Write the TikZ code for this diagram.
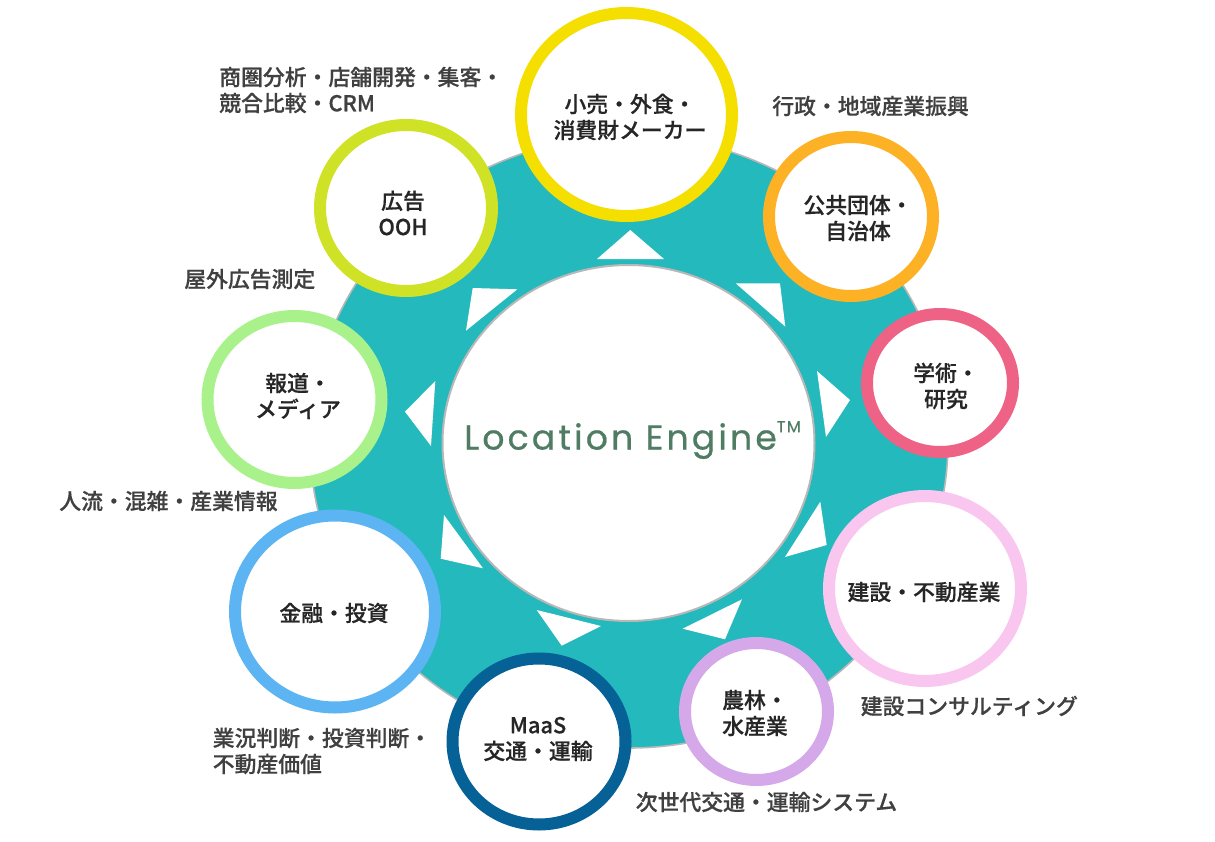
\documentclass[tikz,border=0pt]{standalone}
\usepackage{fontspec}
\usetikzlibrary{shapes.geometric}
\newfontfamily\jpfont[FakeBold=0.5]{Noto Sans CJK JP Medium}
\newfontfamily\logofont[LetterSpace=9,FakeBold=0.6]{Poppins}
\definecolor{teal1}{HTML}{23B9BD}
\definecolor{edge1}{HTML}{B8B8B8}
\definecolor{cyellow}{HTML}{F5DF00}
\definecolor{clime}{HTML}{CFE225}
\definecolor{corange}{HTML}{FDB125}
\definecolor{cpink}{HTML}{EE6286}
\definecolor{clpink}{HTML}{F9C6EF}
\definecolor{cpurple}{HTML}{D5A8EA}
\definecolor{cnavy}{HTML}{056196}
\definecolor{cblue}{HTML}{5DB4F2}
\definecolor{clgreen}{HTML}{A9F28B}
\definecolor{txtdark}{HTML}{262626}
\definecolor{txtgray}{HTML}{404040}
\definecolor{logogreen}{HTML}{4F7C62}
\tikzset{
  x=0.75pt,y=-0.75pt,
  ringnode/.style={ellipse,draw,fill=white,line width=9pt,inner sep=0pt},
  nodetext/.style={text=txtdark,align=center,inner sep=0pt,font=\jpfont\fontsize{16.38}{19.5}\selectfont},
  sidetext/.style={text=txtgray,align=left,inner sep=0pt,font=\jpfont\fontsize{16.38}{19.5}\selectfont},
  arrowtri/.style={fill=white,draw=none},
}
\newcommand{\ringat}[6]{% name, x, y, rx, ry, colour
  \node[ringnode,draw=#6,minimum width=#4*1.5pt-9pt,minimum height=#5*1.5pt-9pt] (#1) at (#2,#3) {};}
\begin{document}
\begin{tikzpicture}
\useasboundingbox (0,0) rectangle (1215,842);
% big disc and central disc
\node[ellipse,draw=edge1,line width=1.2pt,fill=teal1,inner sep=0pt,minimum width=478.5pt,minimum height=459pt] (disc) at (629,442) {};
\node[ellipse,draw=edge1,line width=1.5pt,fill=white,inner sep=0pt,minimum width=279pt,minimum height=267pt] (core) at (628.5,443) {};
\node[text=logogreen,inner sep=0pt,font=\logofont\fontsize{26}{28}\selectfont] (logo) at (632.5,440) {Location Engine\raisebox{0.5em}{\fontsize{12}{12}\selectfont TM}};
% arrow triangles
\fill[arrowtri] (630.3,230) -- (664,259) -- (597,259) -- cycle;
\fill[arrowtri] (735.7,283.3) -- (780,283.3) -- (785.3,326.7) -- cycle;
\fill[arrowtri] (817,371) -- (850,400) -- (826,437) -- cycle;
\fill[arrowtri] (820.3,501.7) -- (826.7,545) -- (785,557) -- cycle;
\fill[arrowtri] (742,599.3) -- (682.7,628.7) -- (725,639.3) -- cycle;
\fill[arrowtri] (536.7,610) -- (601,626) -- (561.7,645.7) -- cycle;
\fill[arrowtri] (444,515) -- (440.7,558.7) -- (483,568.3) -- cycle;
\fill[arrowtri] (405,411.7) -- (435.3,381) -- (431,446) -- cycle;
\fill[arrowtri] (472.7,288) -- (517.3,289.3) -- (466,330.7) -- cycle;
% rings
\ringat{retail}{626.5}{114.5}{111.5}{107.5}{cyellow}
\ringat{ooh}{406}{208}{92}{89}{clime}
\ringat{public}{851}{216.5}{88}{85.5}{corange}
\ringat{acad}{940}{383}{79}{75}{cpink}
\ringat{build}{925}{588.5}{102}{98.5}{clpink}
\ringat{agri}{756.5}{711.5}{77.5}{74.5}{cpurple}
\ringat{maas}{539}{741.5}{92.5}{89}{cnavy}
\ringat{fin}{335}{611.5}{106}{102}{cblue}
\ringat{media}{294.5}{399.5}{93}{89.5}{clgreen}
% ring texts
\node[nodetext] (tretail) at (630,117) {小売・外食・\\消費財メーカー};
\node[nodetext] (tooh) at (403,213) {広告\\OOH};
\node[nodetext] (tpublic) at (858,218) {公共団体・\\自治体};
\node[nodetext] (tacad) at (946,386) {学術・\\研究};
\node[nodetext] (tbuild) at (924,592) {建設・不動産業};
\node[nodetext] (tagri) at (755,713) {農林・\\水産業};
\node[nodetext] (tmaas) at (538,739) {MaaS\\交通・運輸};
\node[nodetext] (tfin) at (334,613) {金融・投資};
\node[nodetext] (tmedia) at (298,396) {報道・\\メディア};
% side labels
\node[sidetext,anchor=west] (l1) at (219,90) {商圏分析・店舗開発・集客・\\競合比較・CRM};
\node[sidetext,anchor=west] (l2) at (772,106) {行政・地域産業振興};
\node[sidetext,anchor=west] (l3) at (184,279) {屋外広告測定};
\node[sidetext,anchor=west] (l4) at (59,501) {人流・混雑・産業情報};
\node[sidetext,anchor=west] (l5) at (212.5,751) {業況判断・投資判断・\\不動産価値};
\node[sidetext,anchor=west] (l6) at (860.5,706) {建設コンサルティング};
\node[sidetext,anchor=west] (l7) at (635.5,802) {次世代交通・運輸システム};
\end{tikzpicture}
\end{document}
